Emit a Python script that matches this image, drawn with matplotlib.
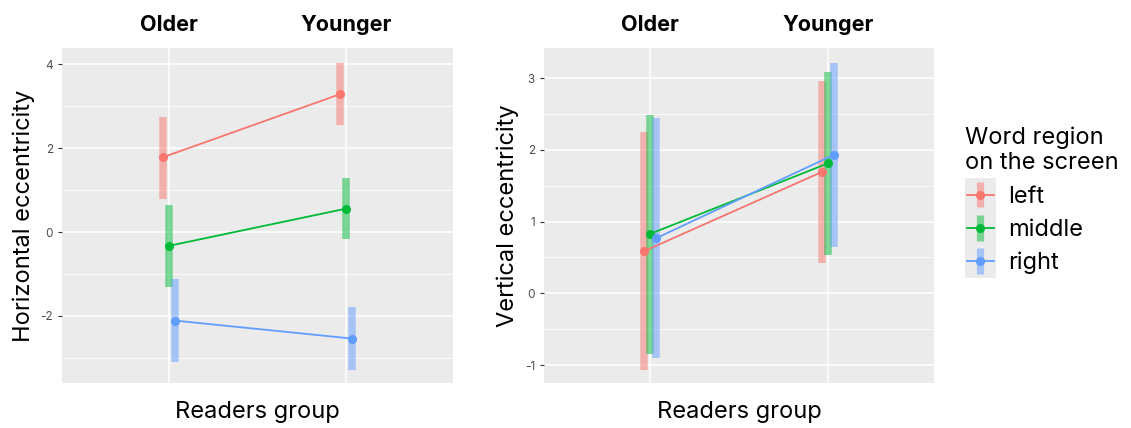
import matplotlib
matplotlib.use("Agg")
import matplotlib.pyplot as plt
from matplotlib.legend_handler import HandlerBase
from matplotlib.lines import Line2D
from matplotlib.patches import Rectangle
from matplotlib.ticker import MultipleLocator

plt.rcParams["font.family"] = ["Inter", "DejaVu Sans"]
plt.rcParams["axes.unicode_minus"] = False

groups = ["Older", "Younger"]
regions = ["left", "middle", "right"]

# horizontal eccentricity: mean, lower, upper per region (Older, Younger)
horiz_mean = {"left": [1.78, 3.29], "middle": [-0.33, 0.56], "right": [-2.11, -2.54]}
horiz_low = {"left": [0.79, 2.56], "middle": [-1.30, -0.17], "right": [-3.10, -3.28]}
horiz_high = {"left": [2.74, 4.02], "middle": [0.65, 1.30], "right": [-1.12, -1.78]}

# vertical eccentricity
vert_mean = {"left": [0.59, 1.69], "middle": [0.83, 1.81], "right": [0.77, 1.93]}
vert_low = {"left": [-1.07, 0.42], "middle": [-0.84, 0.53], "right": [-0.90, 0.65]}
vert_high = {"left": [2.25, 2.96], "middle": [2.49, 3.09], "right": [2.44, 3.21]}

colors = {"left": "#F8766D", "middle": "#00BA38", "right": "#619CFF"}
dodge = {"left": -0.034, "middle": 0.0, "right": 0.034}
BG = "#EBEBEB"


class KeyHandler(HandlerBase):
    def create_artists(self, legend, orig_handle, xdescent, ydescent,
                       width, height, fontsize, trans):
        c = orig_handle.get_color()
        x0, y0 = -xdescent, -ydescent
        gap = legend.labelspacing * fontsize / 2 + 0.4
        full = height + 2 * gap
        bg = Rectangle((x0, y0 - gap), width, full, facecolor=BG,
                       edgecolor="none", transform=trans)
        cx, cy = x0 + width / 2, y0 + height / 2
        bar = Line2D([cx, cx], [cy - 0.38 * full, cy + 0.38 * full],
                     color=c, lw=5.2, alpha=0.5, solid_capstyle="butt",
                     transform=trans)
        ln = Line2D([x0 + 1, x0 + width - 1], [cy, cy], color=c, lw=1.3,
                    transform=trans)
        dot = Line2D([cx], [cy], marker="o", ms=5.5, color=c, lw=0,
                     transform=trans)
        return [bg, bar, ln, dot]


def panel(ax, mean, low, high, ylabel, ylim, major):
    ax.set_facecolor(BG)
    for s in ax.spines.values():
        s.set_visible(False)
    xs = [1, 2]
    for r in regions:
        xr = [x + dodge[r] for x in xs]
        ax.vlines(xr, low[r], high[r], colors=colors[r], lw=5.4, alpha=0.5,
                  zorder=3)
        ax.plot(xr, mean[r], "-o", color=colors[r], lw=1.3, ms=5.5, zorder=4)
    ax.set_xlim(0.4, 2.6)
    ax.set_ylim(*ylim)
    ax.yaxis.set_major_locator(MultipleLocator(major))
    ax.yaxis.set_minor_locator(MultipleLocator(major / 2))
    ax.grid(True, which="major", color="white", lw=1.1)
    ax.grid(True, which="minor", axis="y", color="white", lw=0.55)
    ax.set_axisbelow(True)
    ax.set_xticks(xs)
    ax.set_xticklabels(groups, fontsize=15.5, fontweight="bold")
    ax.xaxis.tick_top()
    ax.tick_params(axis="x", length=0, pad=9)
    ax.tick_params(axis="y", which="major", length=3, color="#333333",
                   labelsize=8.5, labelcolor="#4D4D4D", width=0.8)
    ax.tick_params(axis="y", which="minor", length=0)
    ax.set_xlabel("Readers group", fontsize=17, labelpad=13)
    ax.set_ylabel(ylabel, fontsize=17, labelpad=4)


fig = plt.figure(figsize=(11.31, 4.28), dpi=100)
ax1 = fig.add_axes([0.0548, 0.105, 0.3457, 0.783])
ax2 = fig.add_axes([0.481, 0.105, 0.3448, 0.783])
panel(ax1, horiz_mean, horiz_low, horiz_high, "Horizontal eccentricity",
      (-3.6, 4.39), 2)
panel(ax2, vert_mean, vert_low, vert_high, "Vertical eccentricity",
      (-1.25, 3.42), 1)

handles = [Line2D([], [], color=colors[r]) for r in regions]
leg = fig.legend(handles, regions, title="Word region\non the screen",
                 loc="upper left", bbox_to_anchor=(0.845, 0.727),
                 frameon=False, fontsize=17, title_fontsize=17,
                 handler_map={Line2D: KeyHandler()}, handlelength=1.3,
                 handleheight=1.2, labelspacing=0.35, handletextpad=0.5,
                 borderaxespad=0)
leg._legend_box.align = "left"

fig.savefig("out.png", dpi=100)
